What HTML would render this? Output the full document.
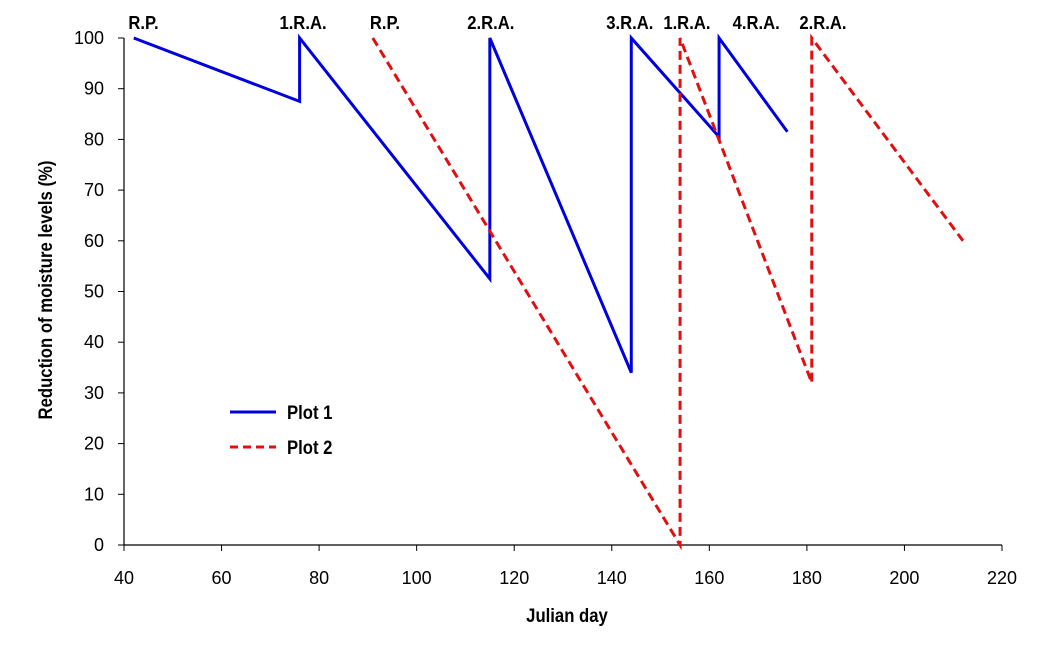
<!DOCTYPE html>
<html><head><meta charset="utf-8"><style>
body{margin:0;background:#fff;}
svg text{font-family:"Liberation Sans",sans-serif;}
</style></head><body>
<svg id="chart" width="1047" height="649" xmlns="http://www.w3.org/2000/svg">
<g id="axes"></g><g id="series"></g><g id="annots"></g>
<g>
<line x1="230" y1="412" x2="276" y2="412" stroke="#0000dd" stroke-width="3"/>
<text x="287" y="419" font-size="19" font-weight="bold" transform="translate(287 0) scale(0.88 1) translate(-287 0)">Plot 1</text>
<line x1="230" y1="447" x2="276" y2="447" stroke="#e01010" stroke-width="3" stroke-dasharray="8,5"/>
<text x="287" y="454" font-size="19" font-weight="bold" transform="translate(287 0) scale(0.88 1) translate(-287 0)">Plot 2</text>
</g>
<text x="567" y="622" font-size="19" font-weight="bold" text-anchor="middle" transform="translate(567 0) scale(0.88 1) translate(-567 0)">Julian day</text>
<text x="0" y="0" font-size="19" font-weight="bold" text-anchor="middle" transform="translate(52 290) rotate(-90) scale(0.88 1)">Reduction of moisture levels (%)</text>
</svg>
<script>
const xTicks=[40,60,80,100,120,140,160,180,200,220];
const yTicks=[0,10,20,30,40,50,60,70,80,90,100];
const plot1Days=[42,76,76,115,115,144,144,162,162,176];
const plot1Vals=[100,87.5,100,52.5,100,34,100,80.5,100,81.5];
const plot2Days=[91,154,154,181,181,212];
const plot2Vals=[100,0,100,32,100,60];
const annotLabels=["R.P.","1.R.A.","R.P.","2.R.A.","3.R.A.","1.R.A.","4.R.A.","2.R.A."];
const annotDays=[44,76.7,93.5,115.2,143.7,155.4,169.6,183.3];
const NS="http://www.w3.org/2000/svg";
const X=d=>124+(d-40)*(878/180);
const Y=v=>545-v*5.07;
function mk(t,a,p,txt){const e=document.createElementNS(NS,t);for(const k in a)e.setAttribute(k,a[k]);if(txt!=null)e.textContent=txt;p.appendChild(e);return e;}
const ax=document.getElementById('axes');
let l=mk('line',{x1:124,y1:Y(0),x2:1002,y2:Y(0),stroke:'#000','stroke-width':1.2},ax);


l=mk('line',{x1:124,y1:Y(0),x2:124,y2:Y(100),stroke:'#000','stroke-width':1.2},ax);


xTicks.forEach(t=>{mk('line',{x1:X(t),y1:545,x2:X(t),y2:551,stroke:'#000'},ax);
const e=mk('text',{x:X(t),y:584,'font-size':18,'text-anchor':'middle'},ax,t);

});
yTicks.forEach(t=>{mk('line',{x1:118,y1:Y(t),x2:124,y2:Y(t),stroke:'#000'},ax);
const e=mk('text',{x:104,y:Y(t)+6,'font-size':18,'text-anchor':'end'},ax,t);

});
const sg=document.getElementById('series');
function pts(d,v){return d.map((x,i)=>X(x)+','+Y(v[i])).join(' ');}
let p=mk('polyline',{points:pts(plot1Days,plot1Vals),fill:'none',stroke:'#0000dd','stroke-width':3,'stroke-linejoin':'miter'},sg);


p=mk('polyline',{points:pts(plot2Days,plot2Vals),fill:'none',stroke:'#e01010','stroke-width':3,'stroke-dasharray':'9,5'},sg);


const an=document.getElementById('annots');
annotLabels.forEach((s,i)=>{const x=X(annotDays[i]);
const e=mk('text',{x:x,y:29,'font-size':18.5,'font-weight':'bold','text-anchor':'middle',transform:`translate(${x} 0) scale(0.9 1) translate(${-x} 0)`},an,s);

});
</script>
</body></html>
